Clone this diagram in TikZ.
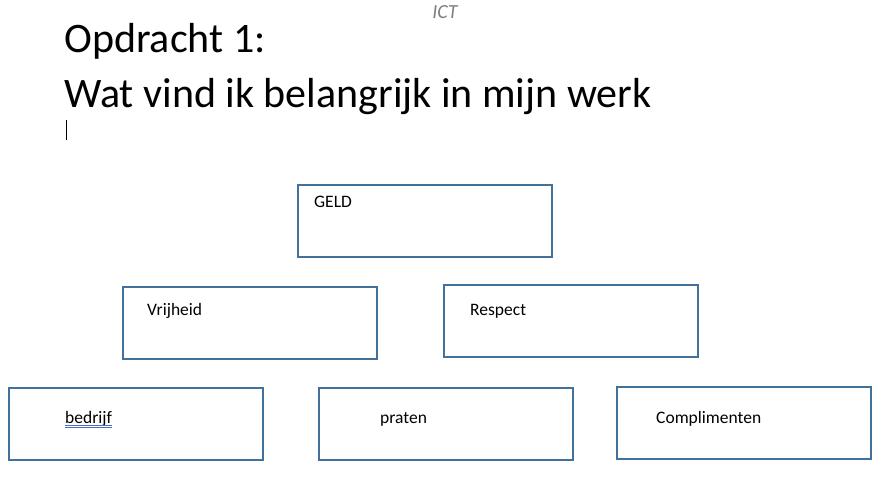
\documentclass[tikz,border=0pt]{standalone}
\usepackage{fontspec}
\setmainfont{Carlito}
\usetikzlibrary{positioning}
\usetikzlibrary{calc}
\definecolor{boxblue}{HTML}{41719C}
\definecolor{spellblue}{HTML}{4472C4}
\tikzset{box/.style={draw=boxblue, line width=1.8pt, minimum width=254pt, minimum height=72pt, inner sep=0pt, anchor=north west}}
\tikzset{boxtext/.style={font=\fontsize{17.5}{20}\selectfont, inner sep=0pt, anchor=base west}}
\tikzset{titletext/.style={font=\fontsize{42}{48}\selectfont, inner sep=0pt, anchor=base west}}

\begin{document}
\begin{tikzpicture}[x=1pt,y=-1pt]
    \useasboundingbox (0,0) rectangle (882,481);

    % header
    \node [font=\fontsize{20}{24}\selectfont\itshape, text=black!50, inner sep=0pt] (ict) at (445,12) {ICT};

    % title
    \node [titletext] (title1) at (64,53) {Opdracht 1:};
    \node [titletext] (title2) at (64,108) {Wat vind ik belangrijk in mijn werk};

    % cursor
    \coordinate (cursortop) at (66,120);
    \coordinate (cursorbot) at (66,140);
    \draw [line width=0.8pt] (cursortop) -- (cursorbot);

    % boxes
    \node [box] (geld) at (297,184) {};
    \node [box] (vrij) at (122,286) {};
    \node [box] (resp) at (443,284) {};
    \node [box] (bedr) at (8,387) {};
    \node [box] (prat) at (318,387) {};
    \node [box] (comp) at (616,386) {};

    % box texts
    \node [boxtext] (geldtext) at ($(geld.north west)+(17,23)$) {GELD};
    \node [boxtext] (vrijtext) at ($(vrij.north west)+(25,29)$) {Vrijheid};
    \node [boxtext] (resptext) at ($(resp.north west)+(27,31)$) {Respect};
    \node [boxtext] (bedrtext) at ($(bedr.north west)+(57,36)$) {bedrijf};
    \node [boxtext] (pratext) at ($(prat.north west)+(62,36)$) {praten};
    \node [boxtext] (comptext) at ($(comp.north west)+(40,37)$) {Complimenten};

    % spelling marks
    \coordinate (ulA) at ($(bedrtext.base west)+(0,2.5)$);
    \coordinate (ulB) at ($(bedrtext.base east)+(0,2.5)$);
    \coordinate (ulC) at ($(bedrtext.base west)+(0,4.5)$);
    \coordinate (ulD) at ($(bedrtext.base east)+(0,4.5)$);
    \draw [spellblue, line width=0.7pt] (ulA) -- (ulB);
    \draw [spellblue, line width=0.7pt] (ulC) -- (ulD);

\end{tikzpicture}
\end{document}
